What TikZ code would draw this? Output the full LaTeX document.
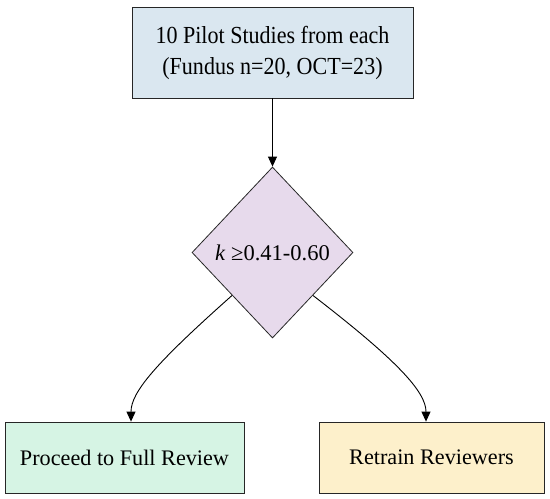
\documentclass[tikz,border=0pt]{standalone}
\usepackage{fontspec}
\setmainfont{Liberation Serif}
\newfontfamily\narrowserif[FakeStretch=0.9]{Liberation Serif}
\usetikzlibrary{shapes.geometric,arrows.meta}
\definecolor{topfill}{HTML}{DAE7F0}
\definecolor{diafill}{HTML}{E7DAEC}
\definecolor{leftfill}{HTML}{D6F4E4}
\definecolor{rightfill}{HTML}{FDF0CB}
\tikzset{
  box/.style={draw=black!85, line width=0.8pt, rectangle, inner sep=0pt, align=center, font=\fontsize{22.2}{26}\selectfont},
  dia/.style={draw=black!85, line width=0.8pt, diamond, inner sep=0pt, fill=diafill},
  conn/.style={line width=0.9pt, -{Triangle[length=10pt,width=9pt]}},
}
\begin{document}
\begin{tikzpicture}[x=1pt,y=-1pt]
\useasboundingbox (0,0) rectangle (550,499);
\node[box, fill=topfill, minimum width=281pt, minimum height=91pt, font=\narrowserif\fontsize{24.5}{31}\selectfont] (top) at (272.5,52.5) {10 Pilot Studies from each\\(Fundus n=20, OCT=23)};
\node[dia, minimum width=161pt, minimum height=171pt] (d) at (272.5,252.5) {};
\node[font=\fontsize{22.5}{26}\selectfont] (dl) at (d.center) {\textit{k} ≥0.41-0.60};
\node[box, fill=leftfill, minimum width=239pt, minimum height=71pt] (left) at (124.5,457.5) {Proceed to Full Review};
\node[box, fill=rightfill, minimum width=225pt, minimum height=71pt] (right) at (431.5,457.5) {Retrain Reviewers};
\draw[conn] (top.south) -- (d.north);
\draw[conn] (d.south west) .. controls (156,363) and (131,392) .. ([xshift=6.5pt]left.north);
\draw[conn] (d.south east) .. controls (398,361) and (426,392) .. ([xshift=-5.5pt]right.north);
\end{tikzpicture}
\end{document}
